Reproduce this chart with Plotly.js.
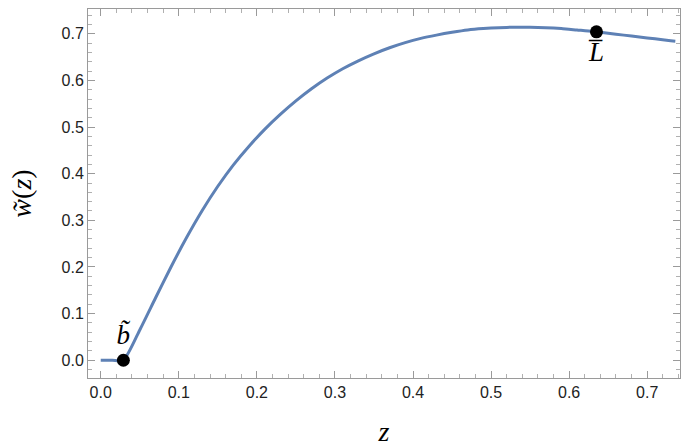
<!DOCTYPE html>
<html><head><meta charset="utf-8">
<script src="https://cdn.plot.ly/plotly-3.0.1.min.js"></script>
<style>html,body{margin:0;padding:0;background:#fff}#chart{width:690px;height:447px}</style>
</head><body><div id="chart"></div>
<script>
// curve values
const z = [0, 0.015, 0.029, 0.05, 0.07, 0.09, 0.11, 0.13, 0.15, 0.17, 0.19, 0.21, 0.23, 0.25, 0.27, 0.29, 0.31, 0.33, 0.35, 0.37, 0.39, 0.41, 0.43, 0.45, 0.47, 0.49, 0.51, 0.53, 0.55, 0.57, 0.59, 0.61, 0.63, 0.65, 0.67, 0.69, 0.71, 0.73, 0.736];
const w = [0, 0, 0, 0.065, 0.133, 0.2, 0.263, 0.321, 0.373, 0.419, 0.459, 0.495, 0.527, 0.556, 0.582, 0.605, 0.625, 0.642, 0.657, 0.67, 0.681, 0.69, 0.697, 0.703, 0.708, 0.711, 0.713, 0.714, 0.714, 0.713, 0.711, 0.708, 0.705, 0.701, 0.697, 0.693, 0.689, 0.685, 0.684];
// marked points
const pointZ = [0.029, 0.635];
const pointW = [0, 0.704];
const pointLabels = ['<i>b\u0303</i>', '<i>L\u0305</i>'];
const pointLabelPos = ['top center', 'bottom center'];

const axisCommon = {
  showline: true, linecolor: '#9a9a9a', linewidth: 1, mirror: 'allticks',
  ticks: 'inside', ticklen: 7, tickcolor: '#9a9a9a', tickwidth: 1,
  minor: {dtick: 0.02, ticks: 'inside', ticklen: 4, tickcolor: '#b0b0b0', tickwidth: 1},
  showgrid: false, zeroline: false, tickformat: '.1f', tick0: 0, dtick: 0.1,
  tickfont: {family: 'Liberation Sans, Arial, sans-serif', size: 16, color: '#222'}
};

const data = [
  {x: z, y: w, type: 'scatter', mode: 'lines', line: {color: '#5E81B5', width: 3, shape: 'spline', smoothing: 0.6}, hoverinfo: 'skip'},
  {x: pointZ, y: pointW, type: 'scatter', mode: 'markers+text', text: pointLabels, textposition: pointLabelPos,
   marker: {color: '#000', size: 13}, textfont: {family: 'Liberation Serif, Times New Roman, serif', size: 27, color: '#000'}, cliponaxis: false}
];

const layout = {
  width: 690, height: 447,
  margin: {l: 88, r: 10, t: 9, b: 69},
  paper_bgcolor: '#fff', plot_bgcolor: '#fff', showlegend: false,
  xaxis: Object.assign({}, axisCommon, {
    range: [-0.0163, 0.742],
    title: {text: '<i>z</i>', font: {family: 'Liberation Serif, Times New Roman, serif', size: 28, color: '#000'}, standoff: 24}
  }),
  yaxis: Object.assign({}, axisCommon, {
    range: [-0.038, 0.753],
    title: {text: '<i>w\u0303</i>(<i>z</i>)', font: {family: 'Liberation Serif, Times New Roman, serif', size: 28, color: '#000'}, standoff: 21}
  })
};

Plotly.newPlot('chart', data, layout, {displayModeBar: false, staticPlot: true});
</script></body></html>
